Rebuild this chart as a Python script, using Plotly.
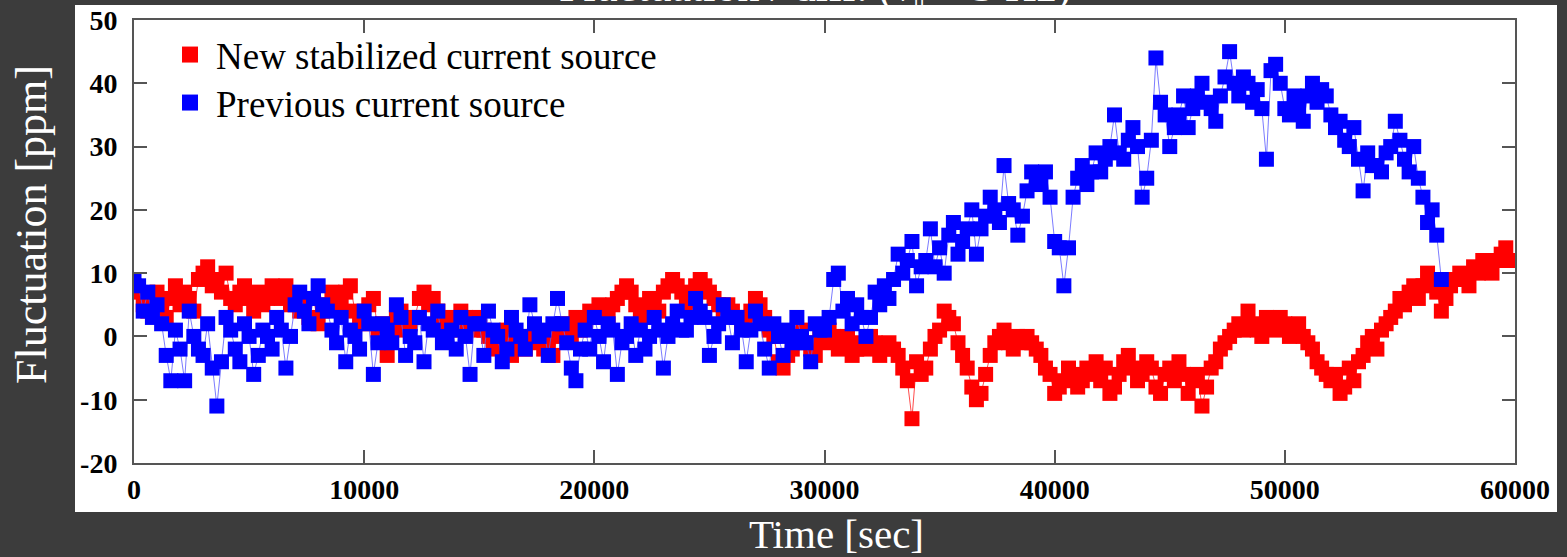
import plotly.graph_objects as go

# ---------------- data ----------------
STEP = 200  # seconds between samples

red_values = [
    8, 7, 5, 4, 6, 7, 5, 3, 6, 8, 5, 7, 6, 4, 9,
    10, 11, 8, 9, 7, 10, 6, 5, 7, 8, 6, 4, 7, 5, 6,
    8, 7, 6, 8, 5, 6, 4, 5, 3, 6, 2, 4, 5, 7, 6,
    5, 7, 8, 4, 3, 2, 5, 6, 1, 2, -3, 1, 3, 4, 1,
    2, 3, 6, 7, 5, 6, 4, 2, 3, 1, 2, 4, 3, 2, 1,
    3, 1, 0, -1, -2, 0, 1, -3, -1, 0, -2, -1, 1, 0, -2,
    -1, -3, 0, 2, 1, 0, 3, 1, 2, 4, 3, 5, 4, 3, 5,
    6, 7, 8, 7, 5, 4, 3, 6, 5, 4, 7, 8, 9, 8, 7,
    5, 6, 8, 9, 8, 7, 6, 5, 4, 5, 4, 3, 2, 3, 4,
    6, 5, 3, 1, 0, -4, -5, -3, -2, 0, 1, -1, -2, -3, 0,
    -1, 1, 0, -2, -1, 0, -3, -2, -1, -2, 0, -1, -3, -2, -1,
    -2, -3, -5, -7, -13, -4, -6, -5, -2, 0, 1, 4, 3, 2, -1,
    -3, -5, -8, -10, -9, -6, -3, -1, 0, 1, -1, -2, 0, -1, 0,
    -1, -2, -3, -5, -6, -9, -8, -7, -5, -6, -8, -7, -5, -6, -4,
    -7, -5, -9, -8, -6, -4, -3, -5, -7, -6, -4, -5, -8, -9, -6,
    -5, -7, -4, -6, -9, -7, -6, -11, -8, -5, -4, -2, -1, 0, 1,
    2, 1, 4, 2, 1, 0, 3, 2, 1, 3, 2, 0, 1, 2, 0,
    -1, -2, -4, -5, -6, -7, -6, -9, -8, -5, -7, -4, -3, -1, 0,
    -2, 1, 2, 3, 4, 6, 5, 7, 8, 6, 8, 10, 9, 7, 4,
    6, 8, 9, 10, 9, 8, 11, 10, 12, 11, 10, 12, 13, 14, 12,
    12,
]

blue_values = [
    9, 8, 4, 7, 3, 5, 2, -3, -7, 1, -2, -7, 4, 0, -2,
    -3, 2, -5, -11, -4, 3, 1, -2, -4, 2, 0, -6, -3, 1, 0,
    -2, 3, 1, -5, 0, 5, 7, 4, 2, 6, 8, 5, 4, 1, -1,
    3, -4, 1, 0, -2, 4, 2, -6, -1, 2, 1, -1, 5, 3, -3,
    0, -1, 3, -4, 2, 1, 4, -1, 0, 1, -2, 3, 0, -6, 2,
    2, -3, 4, 1, 0, -4, -2, 3, 1, 0, -2, 5, 2, 0, 1,
    -3, 2, 6, 2, -1, -5, -7, -2, 1, -2, 3, 0, -4, 2, 1,
    -6, -1, 0, 2, -3, 1, -2, 0, 3, 1, -5, 0, 2, 4, 1,
    1, 3, 6, 4, 3, -3, 0, 2, 5, 3, -1, 3, 1, -4, 1,
    4, 2, -2, -5, 2, 0, -3, 1, -1, 3, 0, -1, -4, 2, 1,
    1, 3, 9, 10, 4, 6, 2, 5, 3, 0, 3, 7, 5, 8, 6,
    9, 13, 10, 12, 15, 8, 11, 12, 17, 11, 14, 10, 16, 18, 13,
    15, 17, 20, 13, 17, 19, 22, 20, 18, 27, 21, 20, 16, 19, 23,
    26, 25, 24, 26, 22, 15, 14, 8, 14, 22, 25, 27, 24, 26, 29,
    26, 28, 30, 35, 29, 28, 31, 33, 30, 22, 25, 31, 44, 37, 35,
    30, 33, 35, 38, 33, 36, 38, 40, 37, 36, 34, 38, 41, 45, 40,
    38, 41, 40, 37, 39, 36, 28, 42, 43, 40, 36, 35, 38, 36, 34,
    38, 40, 37, 39, 38, 35, 33, 34, 31, 30, 33, 28, 23, 29, 27,
    27, 26, 29, 30, 34, 31, 28, 26, 30, 25, 22, 18, 20, 16,
    9,
]

red_time = [i * STEP for i in range(len(red_values))]
blue_time = [i * STEP for i in range(len(blue_values))]

series_names = ["New stabilized current source", "Previous current source"]
x_ticks = [0, 10000, 20000, 30000, 40000, 50000, 60000]
y_ticks = [-20, -10, 0, 10, 20, 30, 40, 50]

# ---------------- figure ----------------
W, H = 1567, 557
L, R, T, B = 134, 52, 20, 94
PW, PH = W - L - R, H - T - B


def px_x(p):
    return (p - L) / PW


def px_y(p):
    return (H - B - p) / PH


fig = go.Figure()
fig.add_trace(go.Scatter(
    x=red_time, y=red_values, name=series_names[0], mode="lines+markers",
    line=dict(color="rgba(255,0,0,0.7)", width=1),
    marker=dict(symbol="square", size=15, color="#ff0000"),
    showlegend=False,
))
fig.add_trace(go.Scatter(
    x=blue_time, y=blue_values, name=series_names[1], mode="lines+markers",
    line=dict(color="rgba(90,90,255,0.8)", width=1),
    marker=dict(symbol="square", size=15, color="#0000ff"),
    showlegend=False,
))
# legend entries (square symbol only, as in the reference)
fig.add_trace(go.Scatter(
    x=[None], y=[None], name=series_names[0], mode="markers",
    marker=dict(symbol="square", size=18, color="#ff0000"), legend="legend",
))
fig.add_trace(go.Scatter(
    x=[None], y=[None], name=series_names[1], mode="markers",
    marker=dict(symbol="square", size=18, color="#0000ff"), legend="legend2",
))

serif = "Liberation Serif, Times New Roman, serif"
axis_common = dict(
    showline=True, linecolor="#555555", linewidth=2, mirror="ticks",
    ticks="inside", ticklen=13, tickwidth=2, tickcolor="#555555",
    showgrid=False, zeroline=False, automargin=False,
    tickfont=dict(family=serif, size=28, color="black", weight="bold"),
)
legend_common = dict(xanchor="left", yanchor="middle", bgcolor="rgba(0,0,0,0)",
                     borderwidth=0, itemwidth=42,
                     font=dict(family=serif, size=37, color="black"))

fig.update_layout(
    width=W, height=H,
    margin=dict(l=L, r=R, t=T, b=B, autoexpand=False),
    paper_bgcolor="#3c3c3c",
    plot_bgcolor="white",
    xaxis=dict(range=[0, 60000], tickvals=x_ticks, ticktext=[str(v) for v in x_ticks],
               ticklabelstandoff=0, **axis_common),
    yaxis=dict(range=[-20, 50], tickvals=y_ticks, ticktext=[str(v) for v in y_ticks],
               ticklabelstandoff=9, **axis_common),
    legend=dict(x=px_x(164), y=px_y(55), **legend_common),
    legend2=dict(x=px_x(164), y=px_y(103), **legend_common),
    shapes=[dict(type="rect", xref="paper", yref="paper", layer="below",
                 x0=px_x(75), x1=px_x(1557), y0=px_y(512), y1=px_y(5),
                 fillcolor="white", line=dict(width=0))],
    annotations=[
        dict(text="Fluctuation [ppm]", xref="paper", yref="paper",
             x=px_x(31), y=px_y(225), textangle=-90, showarrow=False,
             xanchor="center", yanchor="middle",
             font=dict(family=serif, size=44, color="white")),
        dict(text="Time [sec]", xref="paper", yref="paper",
             x=px_x(836), y=px_y(534), showarrow=False,
             xanchor="center", yanchor="middle",
             font=dict(family=serif, size=41, color="white")),
        dict(text="Fluctuation / diff. (ν<sub>||</sub> = 3 Hz)", xref="paper", yref="paper",
             x=px_x(815), y=px_y(19), showarrow=False,
             xanchor="center", yanchor="bottom",
             font=dict(family=serif, size=44, color="white")),
    ],
)

fig.write_html("out.html")
